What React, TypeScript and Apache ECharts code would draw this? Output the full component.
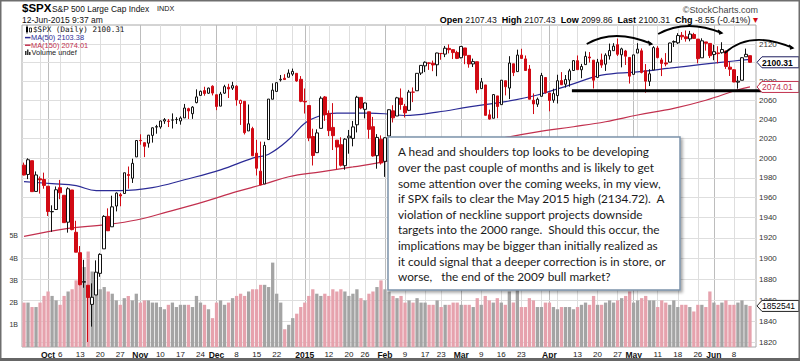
import React, { useEffect, useRef } from "react";
import * as echarts from "echarts";

// ---------- data ----------
const dates = [
  "2014-09-23","2014-09-24","2014-09-25","2014-09-26","2014-09-29","2014-09-30",
  "2014-10-01","2014-10-02","2014-10-03","2014-10-06","2014-10-07","2014-10-08","2014-10-09","2014-10-10","2014-10-13","2014-10-14","2014-10-15","2014-10-16","2014-10-17","2014-10-20","2014-10-21","2014-10-22","2014-10-23","2014-10-24","2014-10-27","2014-10-28","2014-10-29","2014-10-30","2014-10-31",
  "2014-11-03","2014-11-04","2014-11-05","2014-11-06","2014-11-07","2014-11-10","2014-11-11","2014-11-12","2014-11-13","2014-11-14","2014-11-17","2014-11-18","2014-11-19","2014-11-20","2014-11-21","2014-11-24","2014-11-25","2014-11-26","2014-11-28",
  "2014-12-01","2014-12-02","2014-12-03","2014-12-04","2014-12-05","2014-12-08","2014-12-09","2014-12-10","2014-12-11","2014-12-12","2014-12-15","2014-12-16","2014-12-17","2014-12-18","2014-12-19","2014-12-22","2014-12-23","2014-12-24","2014-12-26","2014-12-29","2014-12-30","2014-12-31",
  "2015-01-02","2015-01-05","2015-01-06","2015-01-07","2015-01-08","2015-01-09","2015-01-12","2015-01-13","2015-01-14","2015-01-15","2015-01-16","2015-01-20","2015-01-21","2015-01-22","2015-01-23","2015-01-26","2015-01-27","2015-01-28","2015-01-29","2015-01-30",
  "2015-02-02","2015-02-03","2015-02-04","2015-02-05","2015-02-06","2015-02-09","2015-02-10","2015-02-11","2015-02-12","2015-02-13","2015-02-17","2015-02-18","2015-02-19","2015-02-20","2015-02-23","2015-02-24","2015-02-25","2015-02-26","2015-02-27",
  "2015-03-02","2015-03-03","2015-03-04","2015-03-05","2015-03-06","2015-03-09","2015-03-10","2015-03-11","2015-03-12","2015-03-13","2015-03-16","2015-03-17","2015-03-18","2015-03-19","2015-03-20","2015-03-23","2015-03-24","2015-03-25","2015-03-26","2015-03-27","2015-03-30","2015-03-31",
  "2015-04-01","2015-04-02","2015-04-06","2015-04-07","2015-04-08","2015-04-09","2015-04-10","2015-04-13","2015-04-14","2015-04-15","2015-04-16","2015-04-17","2015-04-20","2015-04-21","2015-04-22","2015-04-23","2015-04-24","2015-04-27","2015-04-28","2015-04-29","2015-04-30",
  "2015-05-01","2015-05-04","2015-05-05","2015-05-06","2015-05-07","2015-05-08","2015-05-11","2015-05-12","2015-05-13","2015-05-14","2015-05-15","2015-05-18","2015-05-19","2015-05-20","2015-05-21","2015-05-22","2015-05-26","2015-05-27","2015-05-28","2015-05-29",
  "2015-06-01","2015-06-02","2015-06-03","2015-06-04","2015-06-05","2015-06-08","2015-06-09","2015-06-10","2015-06-11","2015-06-12",
];

const opens = [
  1992.78,1983.34,1997.32,1966.22,1978.96,1978.21,
  1971.44,1945.83,1948.12,1970.01,1962.36,1935.55,1967.68,1925.63,1905.65,1877.11,1874.18,1855.95,1864.91,1885.62,1909.38,1941.29,1931.02,1951.59,1962.97,1964.14,1983.29,1979.49,2001.20,
  2018.21,2015.81,2015.29,2023.33,2032.36,2032.01,2038.20,2037.75,2039.21,2039.74,2038.29,2041.48,2051.16,2045.87,2057.46,2065.07,2070.15,2067.36,2074.78,
  2065.78,2053.77,2067.45,2073.64,2072.78,2074.84,2056.55,2058.86,2027.92,2030.36,2005.03,1986.71,1973.77,2018.98,2061.04,2069.28,2081.48,2083.25,2084.30,2087.63,2088.49,2082.11,
  2058.90,2054.44,2022.15,2005.55,2030.61,2063.45,2046.13,2031.58,2018.40,2013.75,1992.25,2020.76,2020.19,2034.30,2062.98,2050.42,2047.86,2032.34,2002.45,2019.35,
  1996.67,2022.71,2048.86,2043.45,2062.28,2053.47,2049.38,2068.55,2069.98,2088.78,2096.47,2099.16,2099.25,2097.65,2109.83,2109.10,2115.30,2113.91,2110.88,
  2105.23,2115.76,2107.72,2098.54,2100.91,2072.25,2076.14,2044.69,2041.10,2064.56,2055.35,2080.59,2072.84,2098.69,2090.32,2107.99,2103.94,2093.10,2059.94,2055.78,2064.11,2084.05,
  2067.63,2060.03,2064.87,2080.79,2076.94,2081.29,2091.51,2102.03,2092.28,2097.82,2105.96,2102.58,2084.11,2102.82,2098.27,2107.21,2112.80,2119.29,2108.35,2112.49,2105.52,
  2087.38,2110.23,2112.63,2091.26,2079.96,2092.13,2115.56,2102.87,2099.62,2100.43,2122.07,2121.30,2129.45,2127.79,2125.55,2130.36,2125.34,2105.13,2122.27,2120.66,
  2108.64,2110.41,2110.64,2112.35,2095.09,2092.34,2079.07,2081.12,2106.24,2107.43,
];

const highs = [
  1995.41,1999.79,1997.32,1986.37,1981.28,1985.17,
  1971.44,1952.32,1971.19,1977.84,1962.36,1970.36,1967.68,1936.98,1912.09,1898.71,1874.18,1876.01,1898.16,1905.03,1942.45,1949.31,1961.95,1965.27,1964.64,1985.05,1991.40,1999.40,2018.19,
  2024.46,2015.98,2023.77,2031.61,2034.26,2038.70,2041.28,2040.33,2046.18,2042.22,2043.07,2056.08,2052.14,2053.84,2071.46,2070.17,2074.21,2073.29,2075.76,
  2065.78,2068.77,2076.28,2077.34,2079.47,2075.78,2060.60,2058.86,2055.53,2032.25,2018.69,2016.89,2016.75,2061.23,2077.85,2078.76,2086.73,2087.56,2092.70,2093.55,2088.49,2085.58,
  2072.36,2054.44,2030.25,2029.61,2064.08,2064.43,2049.30,2056.93,2018.40,2021.35,2020.46,2028.94,2038.29,2064.62,2062.98,2057.62,2047.86,2042.49,2024.64,2023.32,
  2021.66,2050.30,2054.74,2063.55,2072.40,2056.16,2070.86,2073.48,2088.53,2097.03,2101.30,2100.23,2102.13,2110.61,2110.05,2117.94,2119.59,2113.91,2112.74,
  2117.52,2115.76,2107.72,2104.25,2100.91,2083.49,2076.14,2050.08,2066.41,2064.56,2081.41,2080.59,2106.85,2098.69,2113.92,2114.86,2107.63,2097.43,2067.15,2062.83,2088.97,2084.05,
  2067.63,2072.17,2086.99,2089.81,2086.69,2093.31,2102.61,2107.65,2098.62,2111.91,2111.30,2102.58,2103.94,2109.64,2109.98,2120.49,2120.92,2125.92,2116.04,2113.65,2105.52,
  2108.41,2120.95,2115.24,2098.42,2092.90,2117.66,2117.69,2105.06,2110.19,2121.45,2123.89,2131.78,2133.02,2134.72,2134.28,2132.15,2125.34,2126.22,2122.27,2120.66,
  2119.15,2117.59,2121.92,2112.89,2100.99,2093.01,2085.62,2105.88,2115.02,2107.43,
];

const lows = [
  1982.44,1978.63,1965.99,1966.22,1964.04,1968.96,
  1941.72,1926.03,1948.12,1958.43,1935.10,1925.25,1927.56,1906.05,1874.14,1871.79,1820.66,1835.02,1864.91,1882.30,1909.38,1926.83,1931.02,1946.27,1951.37,1964.14,1969.04,1974.75,2001.20,
  2013.68,2001.01,2010.71,2015.86,2025.07,2030.17,2035.28,2031.95,2030.44,2035.20,2034.46,2041.48,2040.37,2040.49,2056.75,2065.07,2064.75,2066.62,2065.06,
  2049.57,2053.77,2066.65,2062.34,2070.81,2054.27,2034.17,2024.26,2027.92,2002.33,1982.26,1972.56,1973.77,2018.98,2061.03,2069.28,2079.77,2081.86,2084.30,2085.75,2079.53,2057.94,
  2046.04,2017.34,1992.44,2005.55,2030.61,2038.33,2022.58,2008.25,1988.44,1991.47,1988.12,2004.49,2012.04,2026.38,2050.54,2040.97,2019.91,2001.49,1989.18,1993.38,
  1980.90,2022.71,2036.72,2043.45,2049.97,2041.88,2048.62,2057.99,2069.98,2086.70,2089.80,2092.15,2090.79,2085.44,2103.00,2105.87,2109.89,2103.76,2103.75,
  2104.50,2098.26,2094.49,2095.22,2067.27,2072.21,2044.16,2039.69,2041.10,2041.17,2055.35,2065.08,2061.23,2085.56,2090.32,2104.42,2091.50,2061.05,2045.50,2052.96,2064.11,2067.04,
  2048.38,2057.32,2056.52,2076.10,2073.30,2074.29,2091.51,2092.33,2083.24,2097.82,2100.02,2072.37,2084.11,2094.38,2091.05,2103.19,2112.80,2107.04,2094.89,2097.41,2077.59,
  2087.38,2110.23,2088.46,2067.93,2074.99,2092.13,2104.58,2085.57,2096.04,2100.43,2116.81,2120.01,2124.50,2122.59,2122.95,2126.06,2099.18,2105.13,2112.86,2104.89,
  2102.54,2099.14,2109.61,2093.23,2085.67,2079.11,2072.14,2081.12,2106.24,2099.86,
];

const closes = [
  1982.77,1998.30,1965.99,1982.85,1977.80,1972.29,
  1946.16,1946.17,1967.90,1964.82,1935.10,1968.89,1928.21,1906.13,1874.74,1877.70,1862.49,1862.76,1886.76,1904.01,1941.28,1927.11,1950.82,1964.58,1961.63,1985.05,1982.30,1994.65,2018.05,
  2017.81,2012.10,2023.57,2031.21,2031.92,2038.26,2039.68,2038.25,2039.33,2039.82,2041.32,2051.80,2048.72,2052.75,2063.50,2069.41,2067.03,2072.83,2067.56,
  2053.44,2066.55,2074.33,2071.92,2075.37,2060.31,2059.82,2026.14,2035.33,2002.33,1989.63,1972.74,2012.89,2061.23,2070.65,2078.54,2082.17,2081.88,2088.77,2090.57,2080.35,2058.90,
  2058.20,2020.58,2002.61,2025.90,2062.14,2044.81,2028.26,2023.03,2011.27,1992.67,2019.42,2022.55,2032.12,2063.15,2051.82,2057.09,2029.55,2002.16,2021.25,1994.99,
  2020.85,2050.03,2041.51,2062.52,2055.47,2046.74,2068.59,2068.53,2088.48,2096.99,2100.34,2099.68,2097.45,2110.30,2109.66,2115.48,2113.86,2110.74,2104.50,
  2117.39,2107.78,2098.53,2101.04,2071.26,2079.43,2044.16,2040.24,2065.95,2053.40,2081.19,2074.28,2099.50,2089.27,2108.10,2104.42,2091.50,2061.05,2056.15,2061.02,2086.24,2067.89,
  2059.69,2066.96,2080.62,2076.33,2081.90,2091.18,2102.06,2092.43,2095.84,2106.63,2104.99,2081.18,2100.40,2097.29,2107.96,2112.93,2117.69,2108.92,2114.76,2106.85,2085.51,
  2108.29,2114.49,2089.46,2080.15,2088.00,2116.10,2105.33,2099.12,2098.48,2121.10,2122.73,2129.20,2127.83,2125.85,2130.82,2126.06,2104.20,2123.48,2120.79,2107.39,
  2111.73,2109.60,2114.07,2095.84,2092.83,2079.28,2080.15,2105.20,2108.86,2100.31,
];

// volume, in billions
const volumes = [
  2.0,2.0,1.8,1.8,2.0,2.3,
  2.5,2.3,2.1,1.9,2.3,2.5,2.6,3.0,3.2,3.6,4.3,3.4,3.0,2.6,2.7,2.5,2.4,2.1,1.9,2.2,2.3,2.1,2.4,
  2.0,2.1,2.1,2.0,2.0,1.8,1.7,1.9,2.0,1.8,1.9,1.9,1.9,1.8,2.3,2.0,1.9,1.7,1.3,
  2.0,2.1,1.9,2.0,2.2,2.3,2.4,2.3,2.5,2.6,2.6,2.8,2.8,2.7,3.8,2.4,2.0,0.8,1.0,1.3,1.5,1.8,
  2.0,2.3,2.6,2.4,2.3,2.4,2.3,2.6,2.5,2.6,2.5,2.3,2.4,2.6,2.2,2.1,2.4,2.5,2.7,3.0,
  2.6,2.5,2.3,2.2,2.3,2.0,2.1,2.0,2.2,2.0,2.0,1.9,1.9,2.1,1.8,1.9,1.9,2.0,2.0,
  1.9,1.9,1.9,1.8,2.2,1.9,2.3,2.1,2.0,2.2,2.0,1.9,2.5,2.0,3.1,1.8,1.8,2.2,2.1,1.8,1.8,2.0,
  2.0,1.8,1.7,1.8,1.8,1.8,1.7,1.8,1.9,2.0,1.9,2.3,1.9,1.9,2.0,2.1,2.0,2.1,2.2,2.3,2.5,
  2.0,2.1,2.2,2.3,2.1,2.1,1.8,2.1,2.0,1.9,2.1,1.8,1.9,1.9,1.8,1.6,1.9,1.9,1.8,2.5,
  2.0,1.9,2.0,2.1,1.9,1.9,2.0,2.1,1.9,1.85,
];

// moving averages
const ma50Dates = ["2014-09-23","2014-10-02","2014-10-10","2014-10-17","2014-10-27","2014-11-06","2014-11-18","2014-12-02","2014-12-12","2014-12-18","2014-12-26","2015-01-02","2015-01-08","2015-01-14","2015-01-27","2015-02-03","2015-02-09","2015-02-20","2015-03-04","2015-03-17","2015-03-27","2015-04-09","2015-04-21","2015-05-04","2015-05-14","2015-05-27","2015-06-08","2015-06-12"];
const ma50Values = [1976,1974,1972,1967,1967,1970,1978,1988,2000,2004,2019,2036,2044,2046.5,2046.5,2045.5,2044,2047.5,2053,2058.5,2065.5,2076,2086.5,2090,2094,2098,2101.7,2103.38];
const ma150Dates = ["2014-09-23","2014-10-08","2014-10-21","2014-10-31","2014-11-12","2014-11-25","2014-12-08","2014-12-17","2014-12-26","2015-01-08","2015-01-21","2015-02-02","2015-03-16","2015-03-27","2015-04-10","2015-04-22","2015-05-04","2015-05-15","2015-05-28","2015-06-09","2015-06-12"];
const ma150Values = [1921.5,1929.5,1933,1937.7,1946,1956,1966,1973.7,1981,1986,1991,1996.3,2020.3,2027,2032.3,2037.5,2044.5,2051.5,2060,2071,2074.01];

// axis ticks
const priceTicks = [1820,1840,1860,1880,1900,1920,1940,1960,1980,2000,2020,2040,2060,2080,2100,2120];
const hiddenPriceLabels = [2100]; // covered by the last-price tag in the reference
const volumeTicks = [1,2,3,4,5];
const tickDates = ["2014-10-01","2014-10-06","2014-10-13","2014-10-20","2014-10-27","2014-11-03","2014-11-10","2014-11-17","2014-11-24","2014-12-01","2014-12-08","2014-12-15","2014-12-22","2015-01-02","2015-01-12","2015-01-20","2015-01-26","2015-02-02","2015-02-09","2015-02-17","2015-02-23","2015-03-02","2015-03-09","2015-03-16","2015-03-23","2015-04-01","2015-04-13","2015-04-20","2015-04-27","2015-05-01","2015-05-11","2015-05-18","2015-05-26","2015-06-01","2015-06-08"];
const tickTexts = ["Oct","6","13","20","27","Nov","10","17","24","Dec","8","15","22","2015","12","20","26","Feb","9","17","23","Mar","9","16","23","Apr","13","20","27","May","11","18","26","Jun","8"];
const boldTickTexts = ["Oct","Nov","Dec","2015","Feb","Mar","Apr","May","Jun"];

// annotation (head & shoulders) in [category index, price]
const arcStarts = [[140.3, 2120], [158.1, 2130.9], [174.7, 2110.3]];
const arcPeaks = [[147.8, 2128.7], [165.6, 2139.6], [182.2, 2124.3]];
const arcEnds = [[156.5, 2120], [174.0, 2131.9], [191.7, 2115.7]];
const necklinePrice = 2070;
const necklineFrom = 136.6;
const necklineTo = 184.4;

const noteLines = [
  "A head and shoulders top looks to be developing",
  "over the past couple of months and is likely to get",
  "some attention over the coming weeks, in my view,",
  "if SPX fails to clear the May 2015 high (2134.72).  A",
  "violation of neckline support projects downside",
  "targets into the 2000 range.  Should this occur, the",
  "implications may be bigger than initially realized as",
  "it could signal that a deeper correction is in store, or",
  "worse,   the end of the 2009 bull market?",
];

// ---------- styles ----------
const F = "'Liberation Sans', Arial, sans-serif";
const RED = "#d10a14";
const BLACK = "#111111";
const PINK = "#e6a2ad";
const GRAY = "#a4a4a4";
const MA50C = "#2b2b96";
const MA150C = "#c2304e";

function buildOption() {
  const candleData = dates.map((d, i) => {
    const o = opens[i], c = closes[i];
    const prev = i > 0 ? closes[i - 1] : o;
    const col = c < prev ? RED : BLACK;
    const fill = c > o ? "#ffffff" : col;
    return {
      value: [o, c, lows[i], highs[i]],
      itemStyle: { color: fill, color0: fill, borderColor: col, borderColor0: col, borderWidth: 1 },
    };
  });
  const volData = dates.map((d, i) => {
    const prev = i > 0 ? closes[i - 1] : opens[i];
    return { value: volumes[i], itemStyle: { color: closes[i] < prev ? PINK : GRAY } };
  });

  const tickMap: Record<string, string> = {};
  tickDates.forEach((d, k) => (tickMap[d] = tickTexts[k]));

  // vertical grid lines: first trading day of each week and of each month
  const vLines: any[] = [];
  dates.forEach((d, i) => {
    if (i === 0) return;
    const cur = new Date(d + "T00:00:00Z");
    const prev = new Date(dates[i - 1] + "T00:00:00Z");
    const monthStart = cur.getUTCMonth() !== prev.getUTCMonth();
    const weekStart = cur.getUTCDay() <= prev.getUTCDay() || (cur.getTime() - prev.getTime()) > 3 * 86400000;
    if (monthStart || weekStart) {
      vLines.push({
        xAxis: d,
        label: { show: false },
        lineStyle: { color: monthStart ? "#bdbdbd" : "#dedede", width: 1, type: "solid" },
      });
    }
  });
  const hLines = priceTicks.map((v) => ({
    yAxis: v,
    label: { show: !hiddenPriceLabels.includes(v), formatter: String(v) },
    lineStyle: { color: "#dedede", width: 1, type: "solid" },
  }));

  return {
    animation: false,
    backgroundColor: "#ffffff",
    textStyle: { fontFamily: F },
    grid: { left: 22, right: 44, top: 25, bottom: 14, show: true, borderColor: "#a8a8a8", borderWidth: 1, backgroundColor: "#ffffff" },
    xAxis: {
      type: "category",
      data: [...dates, ""],
      boundaryGap: true,
      axisLine: { show: false },
      axisTick: { show: false },
      splitLine: { show: false },
      axisLabel: {
        interval: (idx: number, val: string) => tickMap[val] !== undefined,
        formatter: (val: string) => {
          const t = tickMap[val];
          if (t === undefined) return "";
          return boldTickTexts.includes(t) ? `{b|${t}}` : t;
        },
        margin: 3,
        fontSize: 8,
        color: "#222",
        fontFamily: F,
        hideOverlap: false,
        rich: { b: { fontWeight: "bold", fontSize: 8.5, color: "#111", fontFamily: F } },
      },
    },
    yAxis: [
      {
        type: "log",
        logBase: 10,
        min: 1816,
        max: 2140.7,
        position: "right",
        axisLine: { show: false },
        axisTick: { show: false },
        axisLabel: { show: false },
        splitLine: { show: false },
      },
      {
        type: "value",
        min: 0,
        max: 14.5,
        interval: 1,
        position: "left",
        axisLine: { show: false },
        axisTick: { show: false },
        splitLine: { show: false },
        axisLabel: {
          margin: 4,
          fontSize: 7,
          color: "#333",
          fontFamily: F,
          formatter: (v: number) => (volumeTicks.includes(v) ? `${v}B` : ""),
        },
      },
    ],
    series: [
      {
        type: "line",
        name: "grid",
        xAxisIndex: 0,
        yAxisIndex: 0,
        data: [],
        silent: true,
        z: 1,
        markLine: {
          silent: true,
          z: 1,
          symbol: ["none", "none"],
          animation: false,
          label: { position: "end", distance: 3, fontSize: 8, color: "#333", fontFamily: F },
          data: [...vLines, ...hLines],
        },
      },
      {
        type: "bar",
        name: "Volume",
        xAxisIndex: 0,
        yAxisIndex: 1,
        data: volData,
        barCategoryGap: "18%",
        silent: true,
        z: 2,
      },
      {
        type: "candlestick",
        name: "$SPX",
        xAxisIndex: 0,
        yAxisIndex: 0,
        data: candleData,
        barWidth: 3,
        silent: true,
        z: 4,
      },
      {
        type: "line",
        name: "MA(50)",
        xAxisIndex: 0,
        yAxisIndex: 0,
        data: ma50Dates.map((d, k) => [d, ma50Values[k]]),
        showSymbol: false,
        symbol: "none",
        smooth: 0.4,
        lineStyle: { color: MA50C, width: 1.2 },
        silent: true,
        z: 3,
      },
      {
        type: "line",
        name: "MA(150)",
        xAxisIndex: 0,
        yAxisIndex: 0,
        data: ma150Dates.map((d, k) => [d, ma150Values[k]]),
        showSymbol: false,
        symbol: "none",
        smooth: 0.4,
        lineStyle: { color: MA150C, width: 1.2 },
        silent: true,
        z: 3,
      },
    ],
  };
}

function txt(text: string, x: number, y: number, opts: any = {}) {
  const align = opts.align || "left";
  const va = opts.va || "middle";
  return {
    type: "text",
    z: opts.z ?? 120,
    silent: true,
    style: {
      text,
      x,
      y,
      fill: opts.fill || "#111",
      fontSize: opts.size || 9,
      fontWeight: opts.weight || "normal",
      fontFamily: opts.family || F,
      textAlign: align,
      align,
      textVerticalAlign: va,
      verticalAlign: va,
      lineHeight: opts.lineHeight,
      rich: opts.rich,
    },
  };
}

function buildGraphics(chart: any) {
  const last = dates.length - 1;
  const ref0 = chart.convertToPixel({ seriesIndex: 2 }, [0, 2000]);
  const ref1 = chart.convertToPixel({ seriesIndex: 2 }, [1, 2000]);
  const step = ref1[0] - ref0[0];
  const xOf = (i: number) => ref0[0] + i * step;
  const yOf = (v: number) => chart.convertToPixel({ seriesIndex: 2 }, [0, v])[1];
  const yVol = (v: number) => chart.convertToPixel({ seriesIndex: 1 }, [0, v])[1];
  const tipX = xOf(dates.length) + step * 0.5 + 1;

  const g: any[] = [];

  // head & shoulders arcs
  arcStarts.forEach((s, k) => {
    const p0 = [xOf(s[0]), yOf(s[1])];
    const pk = [xOf(arcPeaks[k][0]), yOf(arcPeaks[k][1])];
    const p1 = [xOf(arcEnds[k][0]), yOf(arcEnds[k][1])];
    const cx = 2 * pk[0] - (p0[0] + p1[0]) / 2;
    const cy = 2 * pk[1] - (p0[1] + p1[1]) / 2;
    g.push({
      type: "bezierCurve",
      z: 130,
      silent: true,
      shape: { x1: p0[0], y1: p0[1], x2: p1[0], y2: p1[1], cpx1: cx, cpy1: cy },
      style: { stroke: "#000", lineWidth: 1.8, fill: "none" },
    });
    g.push({
      type: "polyline",
      z: 130,
      silent: true,
      shape: { points: [[p1[0] - 4, p1[1] - 3], [p1[0], p1[1]], [p1[0] - 3, p1[1] + 1]] },
      style: { stroke: "#000", lineWidth: 1.5, fill: "none" },
    });
  });
  // neckline
  const ny = yOf(necklinePrice);
  g.push({
    type: "line",
    z: 130,
    silent: true,
    shape: { x1: xOf(necklineFrom), y1: ny, x2: xOf(necklineTo), y2: ny },
    style: { stroke: "#000", lineWidth: 3 },
  });

  // right-side tags
  const tag = (y: number, text: string, stroke: string, color: string, bold: boolean) => {
    g.push({
      type: "polygon",
      z: 140,
      silent: true,
      shape: { points: [[tipX, y], [tipX + 5, y - 5.5], [799, y - 5.5], [799, y + 5.5], [tipX + 5, y + 5.5]] },
      style: { fill: "#fff", stroke, lineWidth: 1 },
    });
    g.push(txt(text, tipX + 5, y + 0.5, { size: 8.5, weight: bold ? "bold" : "normal", fill: color, z: 141 }));
  };
  tag(yOf(closes[last]), closes[last].toFixed(2), "#1d1d5e", "#000", true);
  tag(yOf(ma150Values[ma150Values.length - 1]), ma150Values[ma150Values.length - 1].toFixed(2), MA150C, MA150C, false);
  tag(yVol(volumes[last]), "1852541", "#222", "#000", false);

  // annotation box
  g.push({
    type: "rect",
    z: 150,
    silent: true,
    shape: { x: 388, y: 137, width: 292, height: 153 },
    style: { fill: "#fff", stroke: "#7c93ab", lineWidth: 1.5, shadowBlur: 3, shadowColor: "rgba(0,0,0,0.35)", shadowOffsetX: 2, shadowOffsetY: 2 },
  });
  g.push(txt(noteLines.join("\n"), 398, 144, { size: 11.8, family: "Lato, 'Noto Sans', sans-serif", fill: "#1a1a1a", va: "top", lineHeight: 15.6, z: 151 }));

  // header
  g.push(txt("$SPX", 22, 8, { size: 11.5, weight: "bold", fill: "#000" }));
  g.push(txt("S&P 500 Large Cap Index", 52, 8.5, { size: 8.4, fill: "#111" }));
  g.push(txt("INDX", 157, 8.5, { size: 7.2, fill: "#111" }));
  g.push(txt("12-Jun-2015 9:37 am", 22, 20, { size: 8.5, fill: "#111" }));
  g.push(txt("\u00A9StockCharts.com", 758, 9.5, { size: 9, fill: "#444", align: "right" }));
  const chg = closes[last] - closes[last - 1];
  const pct = (chg / closes[last - 1]) * 100;
  const hdr =
    `{b|Open} {n|${opens[last].toFixed(2)}}  {b|High} {n|${highs[last].toFixed(2)}}  {b|Low} {n|${lows[last].toFixed(2)}}  ` +
    `{b|Last} {n|${closes[last].toFixed(2)}}  {b|Chg} {n|${chg.toFixed(2)} (${pct.toFixed(2)}%)} {r|\u25BE}`;
  g.push(
    txt(hdr, 758, 19.5, {
      align: "right",
      rich: {
        b: { fontWeight: "bold", fontSize: 9, fill: "#000", fontFamily: F },
        n: { fontSize: 8.7, fill: "#111", fontFamily: F },
        r: { fontSize: 10, fill: "#d10a14", fontFamily: F },
      },
    })
  );

  // legend
  g.push({ type: "rect", z: 120, silent: true, shape: { x: 26, y: 27, width: 2, height: 5 }, style: { fill: "#000" } });
  g.push({ type: "line", z: 120, silent: true, shape: { x1: 27, y1: 25.5, x2: 27, y2: 33.5 }, style: { stroke: "#000", lineWidth: 1 } });
  g.push({ type: "rect", z: 120, silent: true, shape: { x: 29.5, y: 28, width: 2, height: 4 }, style: { fill: "#fff", stroke: "#000", lineWidth: 0.8 } });
  g.push(txt(`$SPX (Daily) ${closes[last].toFixed(2)}`, 33, 29.6, { size: 7.6, family: "'DejaVu Sans Mono', monospace", fill: "#111" }));
  g.push({ type: "line", z: 120, silent: true, shape: { x1: 25, y1: 37.6, x2: 30.5, y2: 37.6 }, style: { stroke: MA50C, lineWidth: 1.5 } });
  g.push(txt(`MA(50) ${ma50Values[ma50Values.length - 1].toFixed(2)}`, 31, 37.6, { size: 7.4, fill: MA50C }));
  g.push({ type: "line", z: 120, silent: true, shape: { x1: 25, y1: 45.2, x2: 30.5, y2: 45.2 }, style: { stroke: MA150C, lineWidth: 1.5 } });
  g.push(txt(`MA(150) ${ma150Values[ma150Values.length - 1].toFixed(2)}`, 31, 45.2, { size: 7.4, fill: MA150C }));
  g.push({ type: "rect", z: 120, silent: true, shape: { x: 25, y: 51, width: 1.5, height: 4 }, style: { fill: "#333" } });
  g.push({ type: "rect", z: 120, silent: true, shape: { x: 27, y: 49.5, width: 1.5, height: 5.5 }, style: { fill: "#333" } });
  g.push({ type: "rect", z: 120, silent: true, shape: { x: 29, y: 52, width: 1.5, height: 3 }, style: { fill: "#333" } });
  g.push(txt("Volume undef", 31.5, 52.8, { size: 7.4, fill: "#222" }));

  // outer frame
  g.push({ type: "rect", z: 200, silent: true, shape: { x: 0.75, y: 0.75, width: 798.5, height: 359.5 }, style: { fill: "none", stroke: "#6e6e6e", lineWidth: 1.5 } });
  g.push({ type: "rect", z: 200, silent: true, shape: { x: 0, y: 358, width: 800, height: 3 }, style: { fill: "#666" } });
  return g;
}

export default function App() {
  const ref = useRef<HTMLDivElement>(null);
  useEffect(() => {
    if (!ref.current) return;
    const chart = echarts.init(ref.current, null, { renderer: "svg" });
    chart.setOption(buildOption() as any);
    chart.setOption({ graphic: buildGraphics(chart) } as any);
    return () => chart.dispose();
  }, []);
  return (
    <div
      ref={ref}
      style={{ position: "absolute", left: 0, top: 0, width: 800, height: 361, background: "#fff" }}
    />
  );
}
